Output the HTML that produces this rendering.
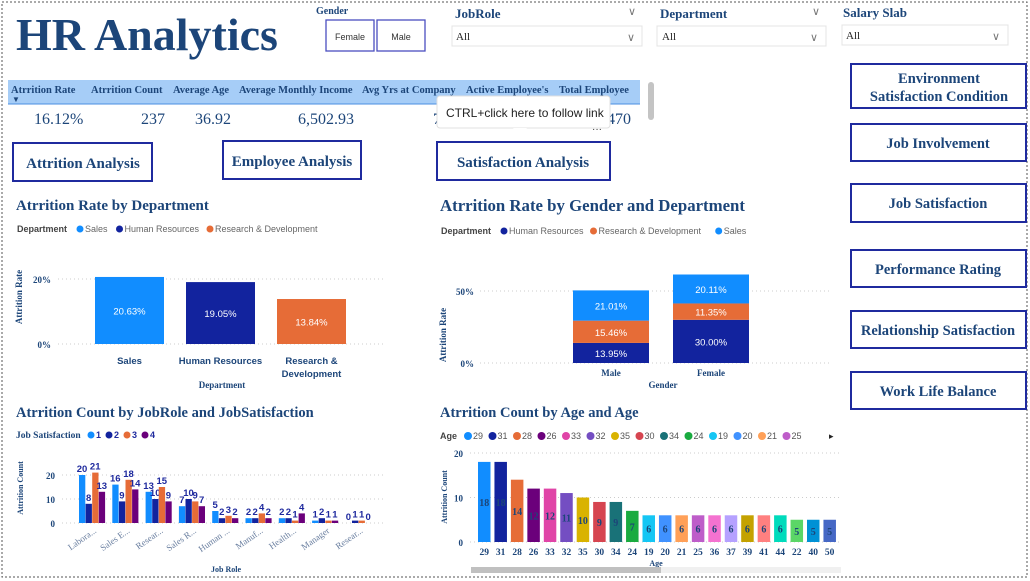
<!DOCTYPE html>
<html><head><meta charset="utf-8"><style>
body{margin:0;width:1030px;height:581px;overflow:hidden;background:#fff;font-family:"Liberation Sans",sans-serif}
svg{display:block}
.ser{font-family:"Liberation Serif",serif;font-weight:bold;fill:#1c4579}
.btn{fill:#fff;stroke:#1f2a9e;stroke-width:2}
</style></head><body>
<svg id="s" width="1030" height="581" xmlns="http://www.w3.org/2000/svg">
<rect x="2" y="2" width="1025" height="575" fill="none" stroke="#555" stroke-dasharray="2,2"/>
<text x="16" y="50" class="ser" font-size="46" fill="#1c4579">HR Analytics</text>
<text x="316" y="14" class="ser" font-size="10">Gender</text>
<g><rect x="326" y="20" width="48" height="31" fill="#fff" stroke="#4a4fc0" stroke-width="1.3"/><text x="350" y="40" text-anchor="middle" font-size="9" fill="#333">Female</text></g>
<g><rect x="377" y="20" width="48" height="31" fill="#fff" stroke="#4a4fc0" stroke-width="1.3"/><text x="401" y="40" text-anchor="middle" font-size="9" fill="#333">Male</text></g>
<text x="411" y="18" class="ser" font-size="13" transform="translate(44,0)">JobRole</text>
<text x="628" y="15" font-size="11" fill="#777">∨</text>
<g><rect x="452" y="26" width="190" height="20" fill="#fff" stroke="#e4e4e4"/><text x="456" y="40" font-family="Liberation Serif" font-size="11" fill="#222">All</text><text x="627" y="41" font-size="11" fill="#777">∨</text></g>
<text x="660" y="18" class="ser" font-size="13">Department</text>
<text x="812" y="15" font-size="11" fill="#777">∨</text>
<g><rect x="657" y="26" width="169" height="20" fill="#fff" stroke="#e4e4e4"/><text x="662" y="40" font-family="Liberation Serif" font-size="11" fill="#222">All</text><text x="810" y="41" font-size="11" fill="#777">∨</text></g>
<text x="843" y="17" class="ser" font-size="13">Salary Slab</text>
<g><rect x="842" y="25" width="166" height="20" fill="#fff" stroke="#e4e4e4"/><text x="846" y="39" font-family="Liberation Serif" font-size="11" fill="#222">All</text><text x="992" y="40" font-size="11" fill="#777">∨</text></g>
<g>
<rect x="8" y="80" width="632" height="24" fill="#a6cdf7"/>
<line x1="8" y1="104" x2="640" y2="104" stroke="#4a8ee0"/>
<g class="ser" font-size="10.5">
<text x="11" y="93">Atrrition Rate</text><text x="91" y="93">Atrrition Count</text><text x="173" y="93">Average Age</text><text x="239" y="93">Average Monthly Income</text><text x="362" y="93">Avg Yrs at Company</text><text x="466" y="93">Active Employee's</text><text x="559" y="93">Total Employee</text>
</g>
<text x="12" y="102" font-size="8" fill="#1c4579">▼</text>
<g font-family="Liberation Serif" font-size="16" fill="#1c4579">
<text x="34" y="124">16.12%</text><text x="165" y="124" text-anchor="end">237</text><text x="231" y="124" text-anchor="end">36.92</text><text x="354" y="124" text-anchor="end">6,502.93</text><text x="433" y="124">7</text><text x="631" y="124" text-anchor="end">470</text>
</g>
<rect x="648" y="82" width="6" height="38" rx="3" fill="#c4c4c4"/>
</g>
<g>
<rect x="437" y="96" width="173" height="32" fill="#fff" stroke="#e0e0e0" rx="3"/>
<path d="M513 128 L520 134 L527 128Z" fill="#fff"/>
<text x="446" y="117" font-size="12" fill="#222">CTRL+click here to follow link</text>
<text x="592" y="132" font-size="10" fill="#333">···</text>
</g>
<g><rect class="btn" x="13" y="143" width="139" height="38"/><text x="83" y="168" text-anchor="middle" class="ser" font-size="15">Attrition Analysis</text></g>
<g><rect class="btn" x="223" y="141" width="138" height="38"/><text x="292" y="166" text-anchor="middle" class="ser" font-size="15">Employee Analysis</text></g>
<g><rect class="btn" x="437" y="142" width="173" height="38"/><text x="523" y="167" text-anchor="middle" class="ser" font-size="15">Satisfaction Analysis</text></g>
<g><rect class="btn" x="851" y="64" width="175" height="44"/><text x="939" y="83" text-anchor="middle" class="ser" font-size="14.5">Environment</text><text x="939" y="101" text-anchor="middle" class="ser" font-size="14.5">Satisfaction Condition</text></g>
<g><rect class="btn" x="851" y="124" width="175" height="37"/><text x="938" y="148" text-anchor="middle" class="ser" font-size="14.5">Job Involvement</text></g>
<g><rect class="btn" x="851" y="184" width="175" height="38"/><text x="938" y="208" text-anchor="middle" class="ser" font-size="14.5">Job Satisfaction</text></g>
<g><rect class="btn" x="851" y="250" width="175" height="37"/><text x="938" y="274" text-anchor="middle" class="ser" font-size="14.5">Performance Rating</text></g>
<g><rect class="btn" x="851" y="311" width="175" height="37"/><text x="938" y="335" text-anchor="middle" class="ser" font-size="14.5">Relationship Satisfaction</text></g>
<g><rect class="btn" x="851" y="372" width="175" height="37"/><text x="938" y="396" text-anchor="middle" class="ser" font-size="14.5">Work Life Balance</text></g>
<text x="16" y="210" class="ser" font-size="15">Atrrition Rate by Department</text>
<text x="440" y="211" class="ser" font-size="16.8">Atrrition Rate by Gender and Department</text>
<text x="16" y="417" class="ser" font-size="14.5">Atrrition Count by JobRole and JobSatisfaction</text>
<text x="440" y="417" class="ser" font-size="14.5">Atrrition Count by Age and Age</text>
<g id="c1"></g><g id="c2"></g><g id="c3"></g><g id="c4"></g>
</svg>
<script>
const deptNames = ["Sales","Human Resources","Research & Development"];
const deptRates = [20.63, 19.05, 13.84];
const deptColors = ["#118DFF","#12239E","#E66C37"];
const genders = ["Male","Female"];
const stackDepts = ["Human Resources","Research & Development","Sales"];
const hrByGender = [13.95, 30.00];
const rdByGender = [15.46, 11.35];
const salesByGender = [21.01, 20.11];
const jobRoles = ["Labora...","Sales E...","Resear...","Sales R...","Human ...","Manuf...","Health...","Manager","Resear..."];
const js1 = [20,16,13,7,5,2,2,1,0];
const js2 = [8,9,10,10,2,2,2,2,1];
const js3 = [21,18,15,9,3,4,1,1,1];
const js4 = [13,14,9,7,2,2,4,1,0];
const ages = ["29","31","28","26","33","32","35","30","34","24","19","20","21","25","36","37","39","41","44","22","40","50"];
const ageCounts = [18,18,14,12,12,11,10,9,9,7,6,6,6,6,6,6,6,6,6,5,5,5];
const ageColors = ["#118DFF","#12239E","#E66C37","#6B007B","#E044A7","#744EC2","#D9B300","#D64550","#197278","#1AAB40","#15C6F4","#4092FF","#FFA058","#BE5DC9","#F472D0","#B5A1FF","#C4A200","#FF8080","#00DBBC","#5BD667","#0091D5","#4668C5"];

const NS="http://www.w3.org/2000/svg";
function mk(p,tag,a,txt){const e=document.createElementNS(NS,tag);for(const k in a)e.setAttribute(k,a[k]);if(txt!==undefined)e.textContent=txt;p.appendChild(e);return e;}
const DK="#1c4579";

(function(){
 const g=document.getElementById('c1');
 const y=v=>344-v*65/20;
 const lg=mk(g,'text',{x:17,y:232,'font-size':9,fill:'#444','font-weight':'bold'},'Department');
 
 
 let lx=80;
 deptNames.forEach((n,i)=>{const c=mk(g,'circle',{cx:lx,cy:229,r:3.5,fill:deptColors[i]});
  
  
  mk(g,'text',{x:lx+5,y:232,'font-size':9,fill:'#666'},n);lx+=n.length*5.1+14;});
 [0,20].forEach(t=>{mk(g,'line',{x1:58,x2:383,y1:y(t),y2:y(t),stroke:'#ccc','stroke-dasharray':'1,3'});
  mk(g,'text',{x:51,y:y(t)+4,'text-anchor':'end','font-size':9,class:'ser'},t+'%');});
 const at=mk(g,'text',{x:0,y:0,'font-size':9,class:'ser',transform:'translate(22,297) rotate(-90)','text-anchor':'middle'},'Attrition Rate');
 
 
 deptRates.forEach((v,i)=>{const x=95+i*91;
  const r=mk(g,'rect',{x:x,y:y(v),width:69,height:344-y(v),fill:deptColors[i]});
  
  
  mk(g,'text',{x:x+34.5,y:(y(v)+344)/2+4,'text-anchor':'middle','font-size':9.5,fill:'#fff'},v.toFixed(2)+'%');
  const parts=deptNames[i]==="Research & Development"?["Research &","Development"]:[deptNames[i]];
  parts.forEach((p,j)=>mk(g,'text',{x:x+34.5,y:364+j*13,'text-anchor':'middle','font-size':9.5,fill:DK,'font-weight':'bold'},p));
 });
 mk(g,'text',{x:222,y:388,'text-anchor':'middle','font-size':9,class:'ser'},'Department');
})();

(function(){
 const g=document.getElementById('c2');
 const y=v=>363-v*72/50;
 mk(g,'text',{x:441,y:234,'font-size':9,fill:'#444','font-weight':'bold'},'Department');
 const cols=["#12239E","#E66C37","#118DFF"];let lx=504;
 stackDepts.forEach((n,i)=>{const c=mk(g,'circle',{cx:lx,cy:231,r:3.5,fill:cols[i]});
  
  
  mk(g,'text',{x:lx+5,y:234,'font-size':9,fill:'#666'},n);lx+=n.length*5.1+13;});
 [0,50].forEach(t=>{mk(g,'line',{x1:480,x2:830,y1:y(t),y2:y(t),stroke:'#ccc','stroke-dasharray':'1,3'});
  mk(g,'text',{x:474,y:y(t)+4,'text-anchor':'end','font-size':9,class:'ser'},t+'%');});
 mk(g,'text',{x:0,y:0,'font-size':9,class:'ser',transform:'translate(446,335) rotate(-90)','text-anchor':'middle'},'Attrition Rate');
 const series=[hrByGender,rdByGender,salesByGender];
 genders.forEach((gn,i)=>{const x=573+i*100;let base=0;
  series.forEach((s,k)=>{const v=s[i];
   const r=mk(g,'rect',{x:x,y:y(base+v),width:76,height:y(base)-y(base+v),fill:cols[k]});
   
   
   mk(g,'text',{x:x+38,y:(y(base)+y(base+v))/2+4,'text-anchor':'middle','font-size':9.5,fill:'#fff'},v.toFixed(2)+'%');
   base+=v;});
  mk(g,'text',{x:x+38,y:376,'text-anchor':'middle','font-size':9,class:'ser'},gn);
 });
 mk(g,'text',{x:663,y:388,'text-anchor':'middle','font-size':9,class:'ser'},'Gender');
})();

(function(){
 const g=document.getElementById('c3');
 const y=v=>523-v*2.4;
 const cols=["#118DFF","#12239E","#E66C37","#6B007B"];
 mk(g,'text',{x:16,y:438,'font-size':9.5,class:'ser'},'Job Satisfaction');
 let lx=91;["1","2","3","4"].forEach((n,i)=>{const c=mk(g,'circle',{cx:lx,cy:435,r:3.5,fill:cols[i]});
  
  
  mk(g,'text',{x:lx+5,y:438,'font-size':9,fill:'#1f2a9e','font-weight':'bold'},n);lx+=18;});
 [0,10,20].forEach(t=>{mk(g,'line',{x1:62,x2:386,y1:y(t),y2:y(t),stroke:'#ccc','stroke-dasharray':'1,3'});
  mk(g,'text',{x:55,y:y(t)+4,'text-anchor':'end','font-size':9,class:'ser'},t);});
 mk(g,'text',{x:0,y:0,'font-size':8,class:'ser',transform:'translate(23,488) rotate(-90)','text-anchor':'middle'},'Attrition Count');
 const series=[js1,js2,js3,js4];
 jobRoles.forEach((r,i)=>{const gx=79+i*33.3;
  series.forEach((s,k)=>{const v=s[i];const x=gx+k*6.6;
   const b=mk(g,'rect',{x:x,y:y(v),width:6.3,height:523-y(v),fill:cols[k]});
   
   
   mk(g,'text',{x:x+3,y:y(v)-3,'text-anchor':'middle','font-size':9.5,'font-weight':'bold',fill:'#1f2a9e'},v);
  });
  mk(g,'text',{x:0,y:0,'font-size':9,'font-family':'Liberation Serif',fill:'#6a7fa0','text-anchor':'end',transform:`translate(${gx+18},532) rotate(-35)`},r);
 });
 mk(g,'text',{x:226,y:572,'text-anchor':'middle','font-size':8,class:'ser'},'Job Role');
})();

(function(){
 const g=document.getElementById('c4');
 const y=v=>542-v*4.45;
 mk(g,'text',{x:440,y:439,'font-size':9,fill:'#444','font-weight':'bold'},'Age');
 let lx=468;ages.slice(0,14).forEach((a,i)=>{const c=mk(g,'circle',{cx:lx,cy:436,r:4,fill:ageColors[i]});
  
  
  mk(g,'text',{x:lx+5,y:439,'font-size':9,fill:'#555'},a);lx+=24.5;});
 mk(g,'text',{x:829,y:439,'font-size':9,fill:'#222'},'▸');
 [0,10,20].forEach(t=>{mk(g,'line',{x1:470,x2:840,y1:y(t),y2:y(t),stroke:'#ccc','stroke-dasharray':'1,3'});
  mk(g,'text',{x:463,y:y(t)+4,'text-anchor':'end','font-size':9,class:'ser'},t);});
 mk(g,'text',{x:0,y:0,'font-size':8,class:'ser',transform:'translate(447,497) rotate(-90)','text-anchor':'middle'},'Attrition Count');
 ageCounts.forEach((v,i)=>{const x=478+i*16.45;
  const b=mk(g,'rect',{x:x,y:y(v),width:12.5,height:542-y(v),fill:ageColors[i]});
  
  
  mk(g,'text',{x:x+6.2,y:(y(v)+542)/2+4,'text-anchor':'middle','font-size':10,'font-family':'Liberation Serif','font-weight':'bold',fill:'#1c4579'},v);
  mk(g,'text',{x:x+6.2,y:555,'text-anchor':'middle','font-size':9.5,class:'ser'},ages[i]);
 });
 mk(g,'text',{x:656,y:566,'text-anchor':'middle','font-size':8,class:'ser'},'Age');
 mk(g,'rect',{x:471,y:567,width:370,height:6,fill:'#f0f0f0'});
 const sb=mk(g,'rect',{x:471,y:567,width:190,height:6,fill:'#c0c0c0'});
 
 
})();
</script>
</body></html>
